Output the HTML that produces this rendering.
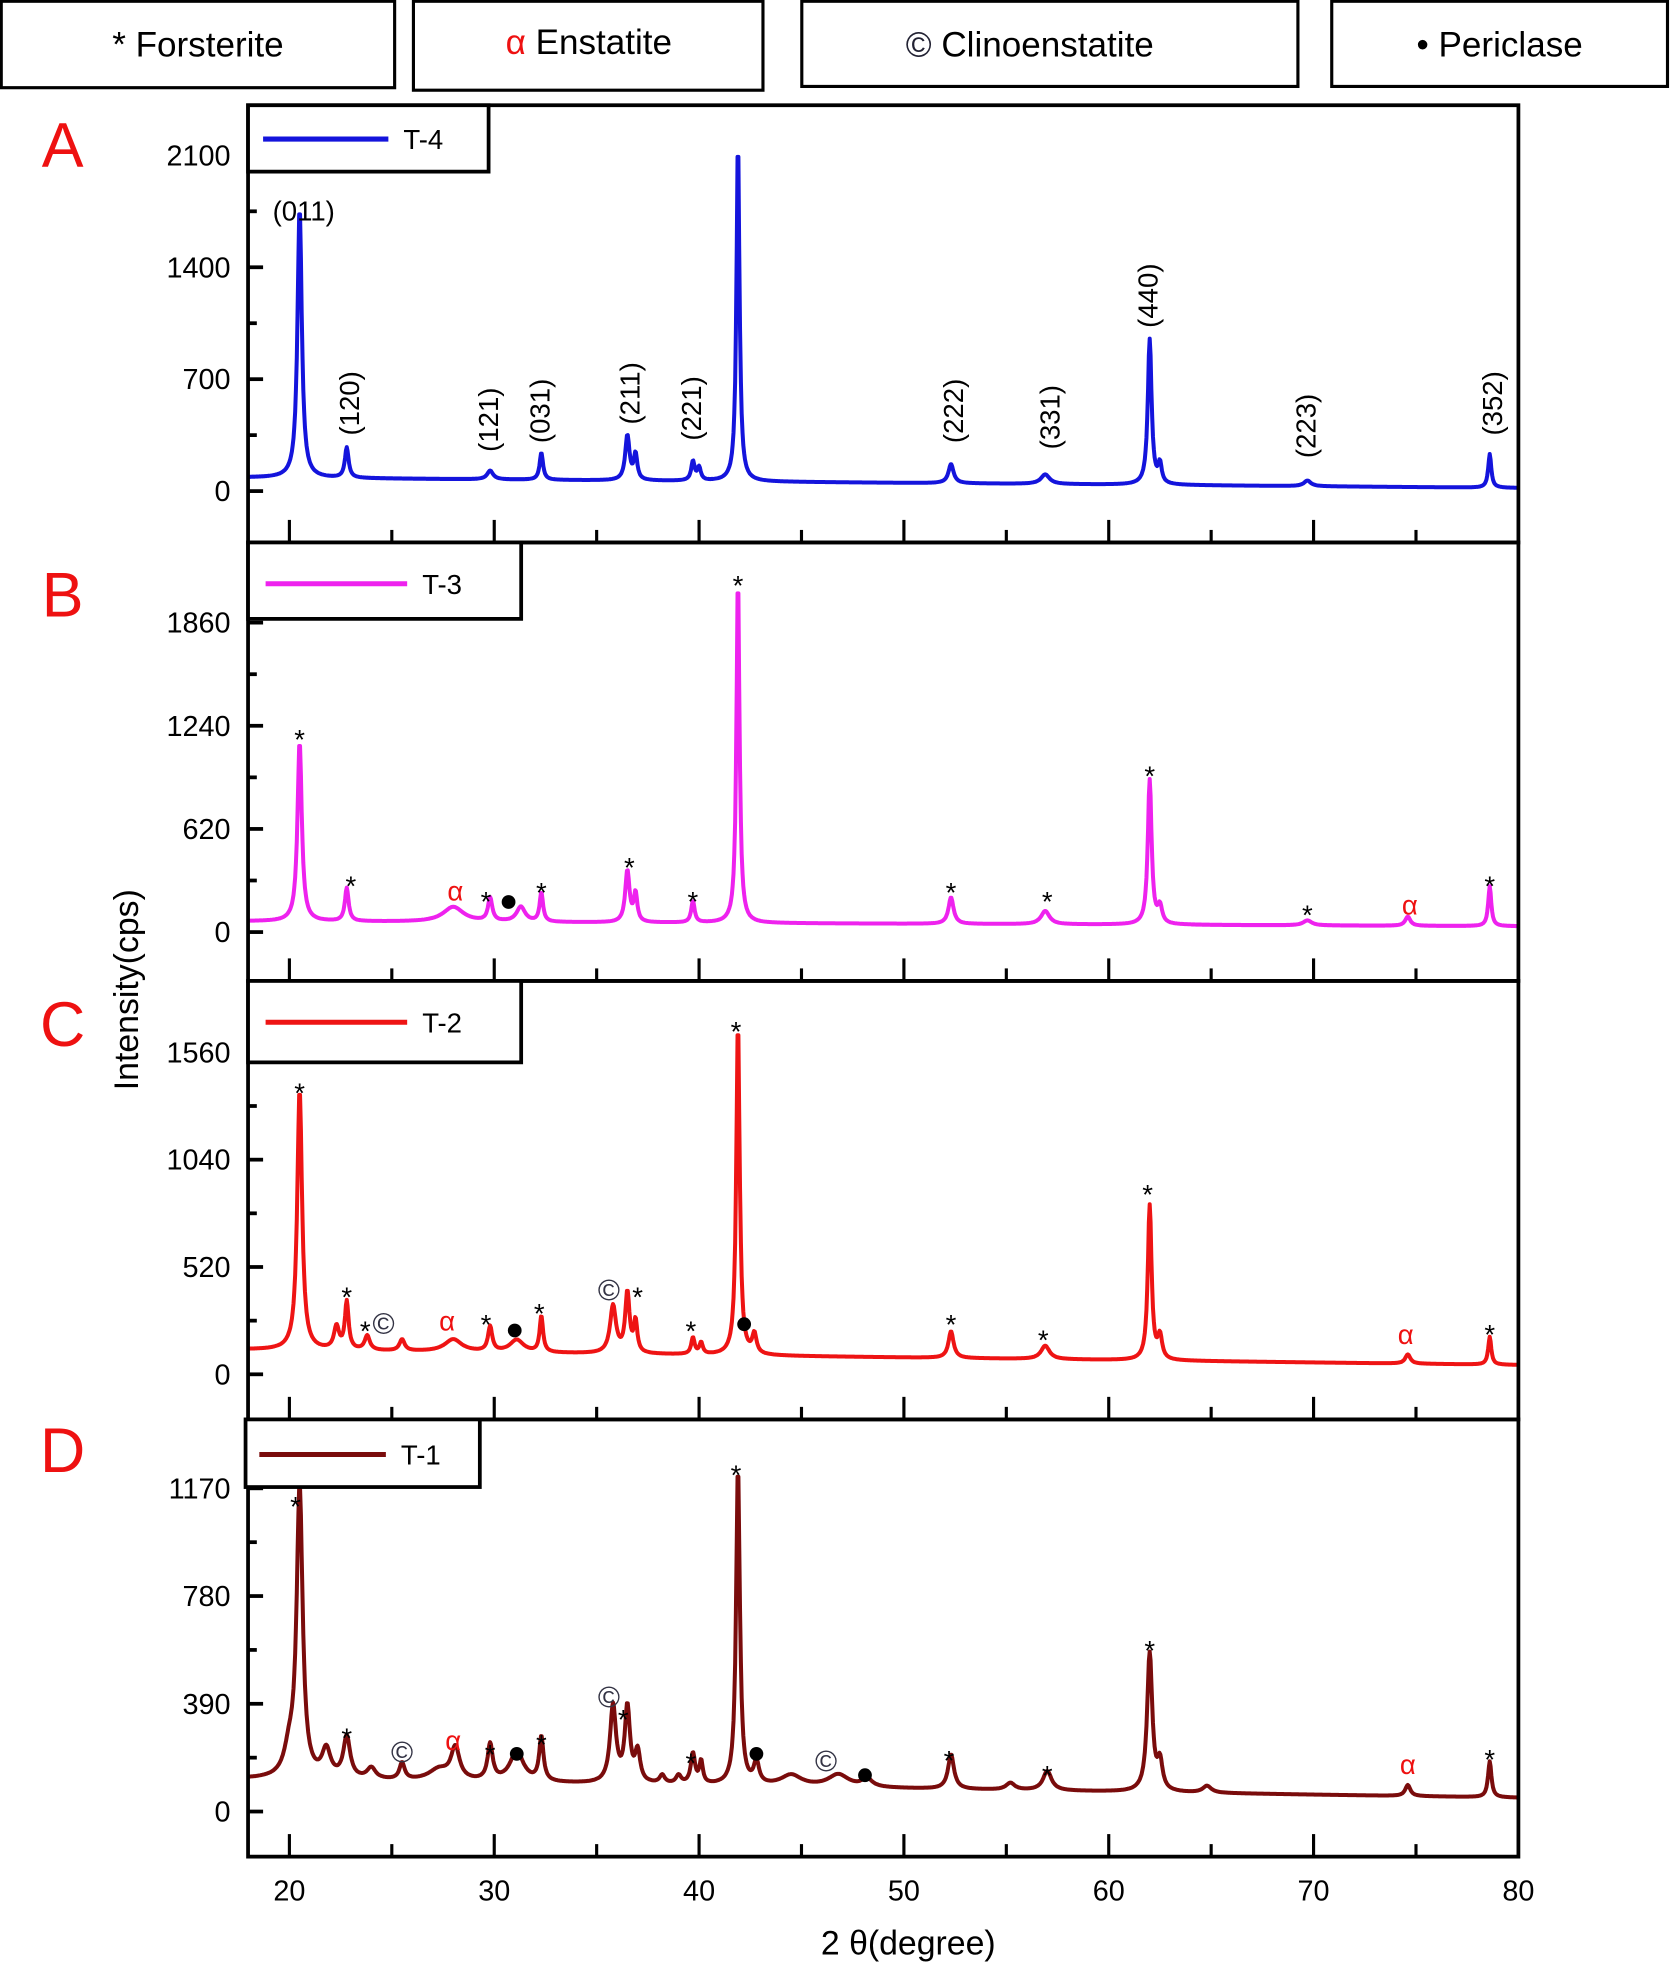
<!DOCTYPE html>
<html><head><meta charset="utf-8">
<style>
html,body{margin:0;padding:0;background:#fff;}
svg{display:block;font-family:"Liberation Sans",sans-serif;}
</style></head>
<body>
<svg id="chart" width="1670" height="1965" viewBox="0 0 1333 1568.5" preserveAspectRatio="none" xmlns="http://www.w3.org/2000/svg">
  <g>
    <rect x="1" y="1" width="314" height="69" fill="#fff" stroke="#000" stroke-width="2.5"/>
    <text x="158" y="45" font-size="28" text-anchor="middle">* Forsterite</text>
    <rect x="330" y="1" width="279" height="71" fill="#fff" stroke="#000" stroke-width="2.5"/>
    <text x="470" y="43" font-size="28" text-anchor="middle"><tspan fill="#e11">α</tspan> Enstatite</text>
    <rect x="640" y="1" width="396" height="68" fill="#fff" stroke="#000" stroke-width="2.5"/>
    <text x="822" y="45" font-size="28" text-anchor="middle"><tspan fill="#223">©</tspan> Clinoenstatite</text>
    <rect x="1063" y="1" width="268" height="68" fill="#fff" stroke="#000" stroke-width="2.5"/>
    <text x="1197" y="45" font-size="28" text-anchor="middle">• Periclase</text>
  </g>
  <g id="panels"></g>
  <text transform="translate(110,790) rotate(-90)" font-size="27" text-anchor="middle">Intensity(cps)</text>
  <text x="725" y="1560" font-size="27" text-anchor="middle">2 θ(degree)</text>
</svg>
<script>
// ---- data ----
const xTicks = [20, 30, 40, 50, 60, 70, 80];
const seriesNames = ['T-4', 'T-3', 'T-2', 'T-1'];
const panelLetters = ['A', 'B', 'C', 'D'];
const yTicksA = [0, 700, 1400, 2100];
const yTicksB = [0, 620, 1240, 1860];
const yTicksC = [0, 520, 1040, 1560];
const yTicksD = [0, 390, 780, 1170];
// baseline at 18° and 80°
const baseA = [85, 20];
const baseB = [65, 35];
const baseC = [120, 45];
const baseD = [118, 50];
// peaks: position (deg), amplitude above baseline (cps), FWHM (deg)
const peakPosA = [20.5, 22.8, 29.8, 32.3, 36.5, 36.9, 39.7, 40.0, 41.9, 52.3, 56.9, 62.0, 62.5, 69.7, 78.6];
const peakAmpA = [1690, 190, 55, 170, 280, 160, 120, 80, 2130, 120, 60, 910, 120, 35, 210];
const peakWidA = [0.25, 0.22, 0.35, 0.2, 0.25, 0.2, 0.2, 0.2, 0.18, 0.3, 0.5, 0.22, 0.2, 0.4, 0.18];
const peakPosB = [20.5, 22.8, 28.0, 29.8, 31.3, 32.3, 36.5, 36.9, 39.7, 41.9, 52.3, 56.9, 62.0, 62.5, 69.7, 74.6, 78.6];
const peakAmpB = [1080, 200, 90, 140, 90, 175, 310, 170, 130, 2080, 160, 80, 870, 100, 30, 55, 240];
const peakWidB = [0.25, 0.22, 1.2, 0.25, 0.5, 0.2, 0.25, 0.2, 0.2, 0.18, 0.3, 0.5, 0.22, 0.25, 0.5, 0.3, 0.18];
const peakPosC = [20.5, 22.3, 22.8, 23.8, 25.5, 28.0, 29.8, 31.1, 32.3, 35.8, 36.5, 36.9, 39.7, 40.1, 41.9, 42.7, 52.3, 56.9, 62.0, 62.5, 74.6, 78.6];
const peakAmpC = [1260, 110, 230, 70, 55, 60, 120, 60, 175, 230, 290, 150, 80, 55, 1610, 95, 130, 65, 750, 110, 45, 135];
const peakWidC = [0.28, 0.3, 0.22, 0.3, 0.3, 1.0, 0.25, 0.8, 0.2, 0.35, 0.25, 0.2, 0.2, 0.2, 0.2, 0.25, 0.3, 0.5, 0.22, 0.25, 0.3, 0.18];
const peakPosD = [20.0, 20.5, 21.8, 22.8, 24.0, 25.5, 27.3, 28.1, 29.8, 31.1, 32.3, 35.8, 36.5, 37.0, 38.2, 39.0, 39.7, 40.1, 41.9, 42.8, 44.5, 46.8, 48.2, 52.3, 55.2, 57.0, 62.0, 62.5, 64.8, 74.6, 78.6];
const peakAmpD = [90, 1040, 100, 150, 40, 60, 40, 115, 130, 110, 160, 280, 270, 110, 30, 30, 110, 80, 1150, 80, 40, 45, 30, 125, 25, 70, 500, 100, 25, 40, 130];
const peakWidD = [0.6, 0.35, 0.5, 0.4, 0.5, 0.3, 1.2, 0.5, 0.3, 0.8, 0.25, 0.35, 0.3, 0.3, 0.3, 0.3, 0.25, 0.2, 0.22, 0.3, 1.2, 1.2, 0.6, 0.35, 0.5, 0.5, 0.3, 0.3, 0.5, 0.3, 0.2];
// annotations [deg, pixelY(display), symbol]
const annB = [[20.5,584,'*'],[23.0,701,'*'],[29.6,713,'*'],[32.3,706,'*'],[36.6,686,'*'],[39.7,713,'*'],[41.9,461,'*'],[52.3,706,'*'],[57.0,713,'*'],[62.0,613,'*'],[69.7,724,'*'],[78.6,701,'*'],[28.1,711,'α'],[74.7,722,'α'],[30.7,720,'•']];
const annC = [[20.5,866,'*'],[22.8,1029,'*'],[23.7,1056,'*'],[24.6,1057,'©'],[27.7,1054,'α'],[29.6,1051,'*'],[31.0,1062,'•'],[32.2,1042,'*'],[35.6,1030,'©'],[37.0,1029,'*'],[39.6,1056,'*'],[42.2,1057,'•'],[41.8,817,'*'],[52.3,1051,'*'],[56.8,1063,'*'],[61.9,947,'*'],[74.5,1065,'α'],[78.6,1059,'*']];
const annD = [[20.3,1196,'*'],[22.8,1381,'*'],[25.5,1399,'©'],[28.0,1389,'α'],[29.8,1394,'*'],[31.1,1400,'•'],[32.3,1386,'*'],[35.6,1355,'©'],[36.3,1366,'*'],[39.6,1401,'*'],[42.8,1400,'•'],[41.8,1171,'*'],[46.2,1406,'©'],[48.1,1417,'•'],[52.2,1399,'*'],[57.0,1411,'*'],[62.0,1311,'*'],[74.6,1408,'α'],[78.6,1398,'*']];
const millerLabels = [[20.7,168,'(011)',0],[22.9,322,'(120)',1],[29.7,335,'(121)',1],[32.2,328,'(031)',1],[36.6,314,'(211)',1],[39.6,326,'(221)',1],[52.4,328,'(222)',1],[57.1,333,'(331)',1],[61.9,236,'(440)',1],[69.6,340,'(223)',1],[78.7,322,'(352)',1]];

// ---- layout ----
const NS = 'http://www.w3.org/2000/svg';
const X0 = 198, X1 = 1212;
const panels = [
  {top:84, bot:433, y0:392, tv:2100, ty:124, ticks:yTicksA, base:baseA, pos:peakPosA, amp:peakAmpA, wid:peakWidA, color:'#1414dc', leg:[198,84,192,53,210,310,111], ann:[]},
  {top:433, bot:783, y0:744, tv:1860, ty:497, ticks:yTicksB, base:baseB, pos:peakPosB, amp:peakAmpB, wid:peakWidB, color:'#ee22ee', leg:[198,433,218,61,212,325,466], ann:annB},
  {top:783, bot:1133, y0:1097, tv:1560, ty:840, ticks:yTicksC, base:baseC, pos:peakPosC, amp:peakAmpC, wid:peakWidC, color:'#ee1414', leg:[198,783,218,65,212,325,816], ann:annC},
  {top:1133, bot:1482, y0:1446, tv:1170, ty:1188, ticks:yTicksD, base:baseD, pos:peakPosD, amp:peakAmpD, wid:peakWidD, color:'#7a0c0c', leg:[196,1133,187,54,207,308,1161], ann:annD}
];
const letterY = [133, 492, 835, 1175];
function xs(d){ return 231 + (d-20)*16.35; }
function mk(tag, attrs, parent){ const e=document.createElementNS(NS,tag); for(const k in attrs) e.setAttribute(k,attrs[k]); parent.appendChild(e); return e; }
const root = document.getElementById('panels');
panels.forEach((p,i)=>{
  const ys = v => p.y0 - v*(p.y0-p.ty)/p.tv;
  const g = mk('g',{},root);
  
  
  let d='';
  for(let x=18; x<=80.001; x+=0.04){
    let v = p.base[0] + (p.base[1]-p.base[0])*(x-18)/62;
    for(let k=0;k<p.pos.length;k++){ const h=p.wid[k]/2; v += p.amp[k]*h*h/((x-p.pos[k])*(x-p.pos[k])+h*h); }
    d += (d?'L':'M') + xs(x).toFixed(1) + ' ' + ys(v).toFixed(1);
  }
  const path = mk('path',{d:d, fill:'none', stroke:p.color, 'stroke-width':3.2, 'stroke-linejoin':'round'},g);
  
  
  const fr = mk('rect',{x:X0, y:p.top, width:X1-X0, height:p.bot-p.top, fill:'none', stroke:'#000', 'stroke-width':3},g);
  
  
  const step = p.ticks[1]-p.ticks[0];
  for(let v=0; v<=p.ticks[p.ticks.length-1]+step/2; v+=step/2){
    const y=ys(v); if(y<p.top+4) continue;
    const major = Math.abs(v/step - Math.round(v/step))<1e-6;
    mk('line',{x1:X0, x2:X0+(major?12:7), y1:y, y2:y, stroke:'#000','stroke-width':3},g);
  }
  p.ticks.forEach(v=>{
    const t = mk('text',{x:184, y:ys(v)+8, 'font-size':23, 'text-anchor':'end'},g);
    t.textContent=v;
    
    
  });
  for(let dg=20; dg<=80; dg+=5){
    const major = dg%10===0;
    mk('line',{x1:xs(dg), x2:xs(dg), y1:p.bot, y2:p.bot-(major?18:10), stroke:'#000','stroke-width':2.5},g);
  }
  const L=p.leg;
  const lg = mk('g',{},g);
  
  
  mk('rect',{x:L[0], y:L[1], width:L[2], height:L[3], fill:'#fff', stroke:'#000','stroke-width':3},lg);
  mk('line',{x1:L[4], x2:L[5], y1:L[6], y2:L[6], stroke:p.color,'stroke-width':4},lg);
  const lt = mk('text',{x:L[5]+12, y:L[6]+8, 'font-size':22},lg); lt.textContent=seriesNames[i];
  const pl = mk('text',{x:50, y:letterY[i], 'font-size':50, fill:'#ee1111','text-anchor':'middle'},g);
  pl.textContent = panelLetters[i];
  
  
  p.ann.forEach(a=>{
    const s=a[2];
    if(s==='•'){ mk('circle',{cx:xs(a[0]), cy:a[1], r:5.5, fill:'#000'},g); return; }
    const t = mk('text',{x:xs(a[0]), y:a[1]+ (s==='*'?14:8), 'font-size': s==='*'?22:(s==='©'?24:22), 'text-anchor':'middle', fill: s==='α'?'#ee1111':(s==='©'?'#334':'#000')},g);
    t.textContent=s;
    
    
  });
});
millerLabels.forEach(m=>{
  const x = xs(m[0]);
  const t = mk('text',{'font-size':22,'text-anchor':'middle'},root);
  if(m[3]) t.setAttribute('transform','translate('+(x+8)+','+m[1]+') rotate(-90)');
  else { t.setAttribute('x',x); t.setAttribute('y',m[1]+8); }
  t.textContent=m[2];
  
  
});
xTicks.forEach(v=>{
  const t = mk('text',{x:xs(v), y:1517, 'font-size':23, 'text-anchor':'middle'},root);
  t.textContent=v;
  
  
});
</script>
</body></html>
